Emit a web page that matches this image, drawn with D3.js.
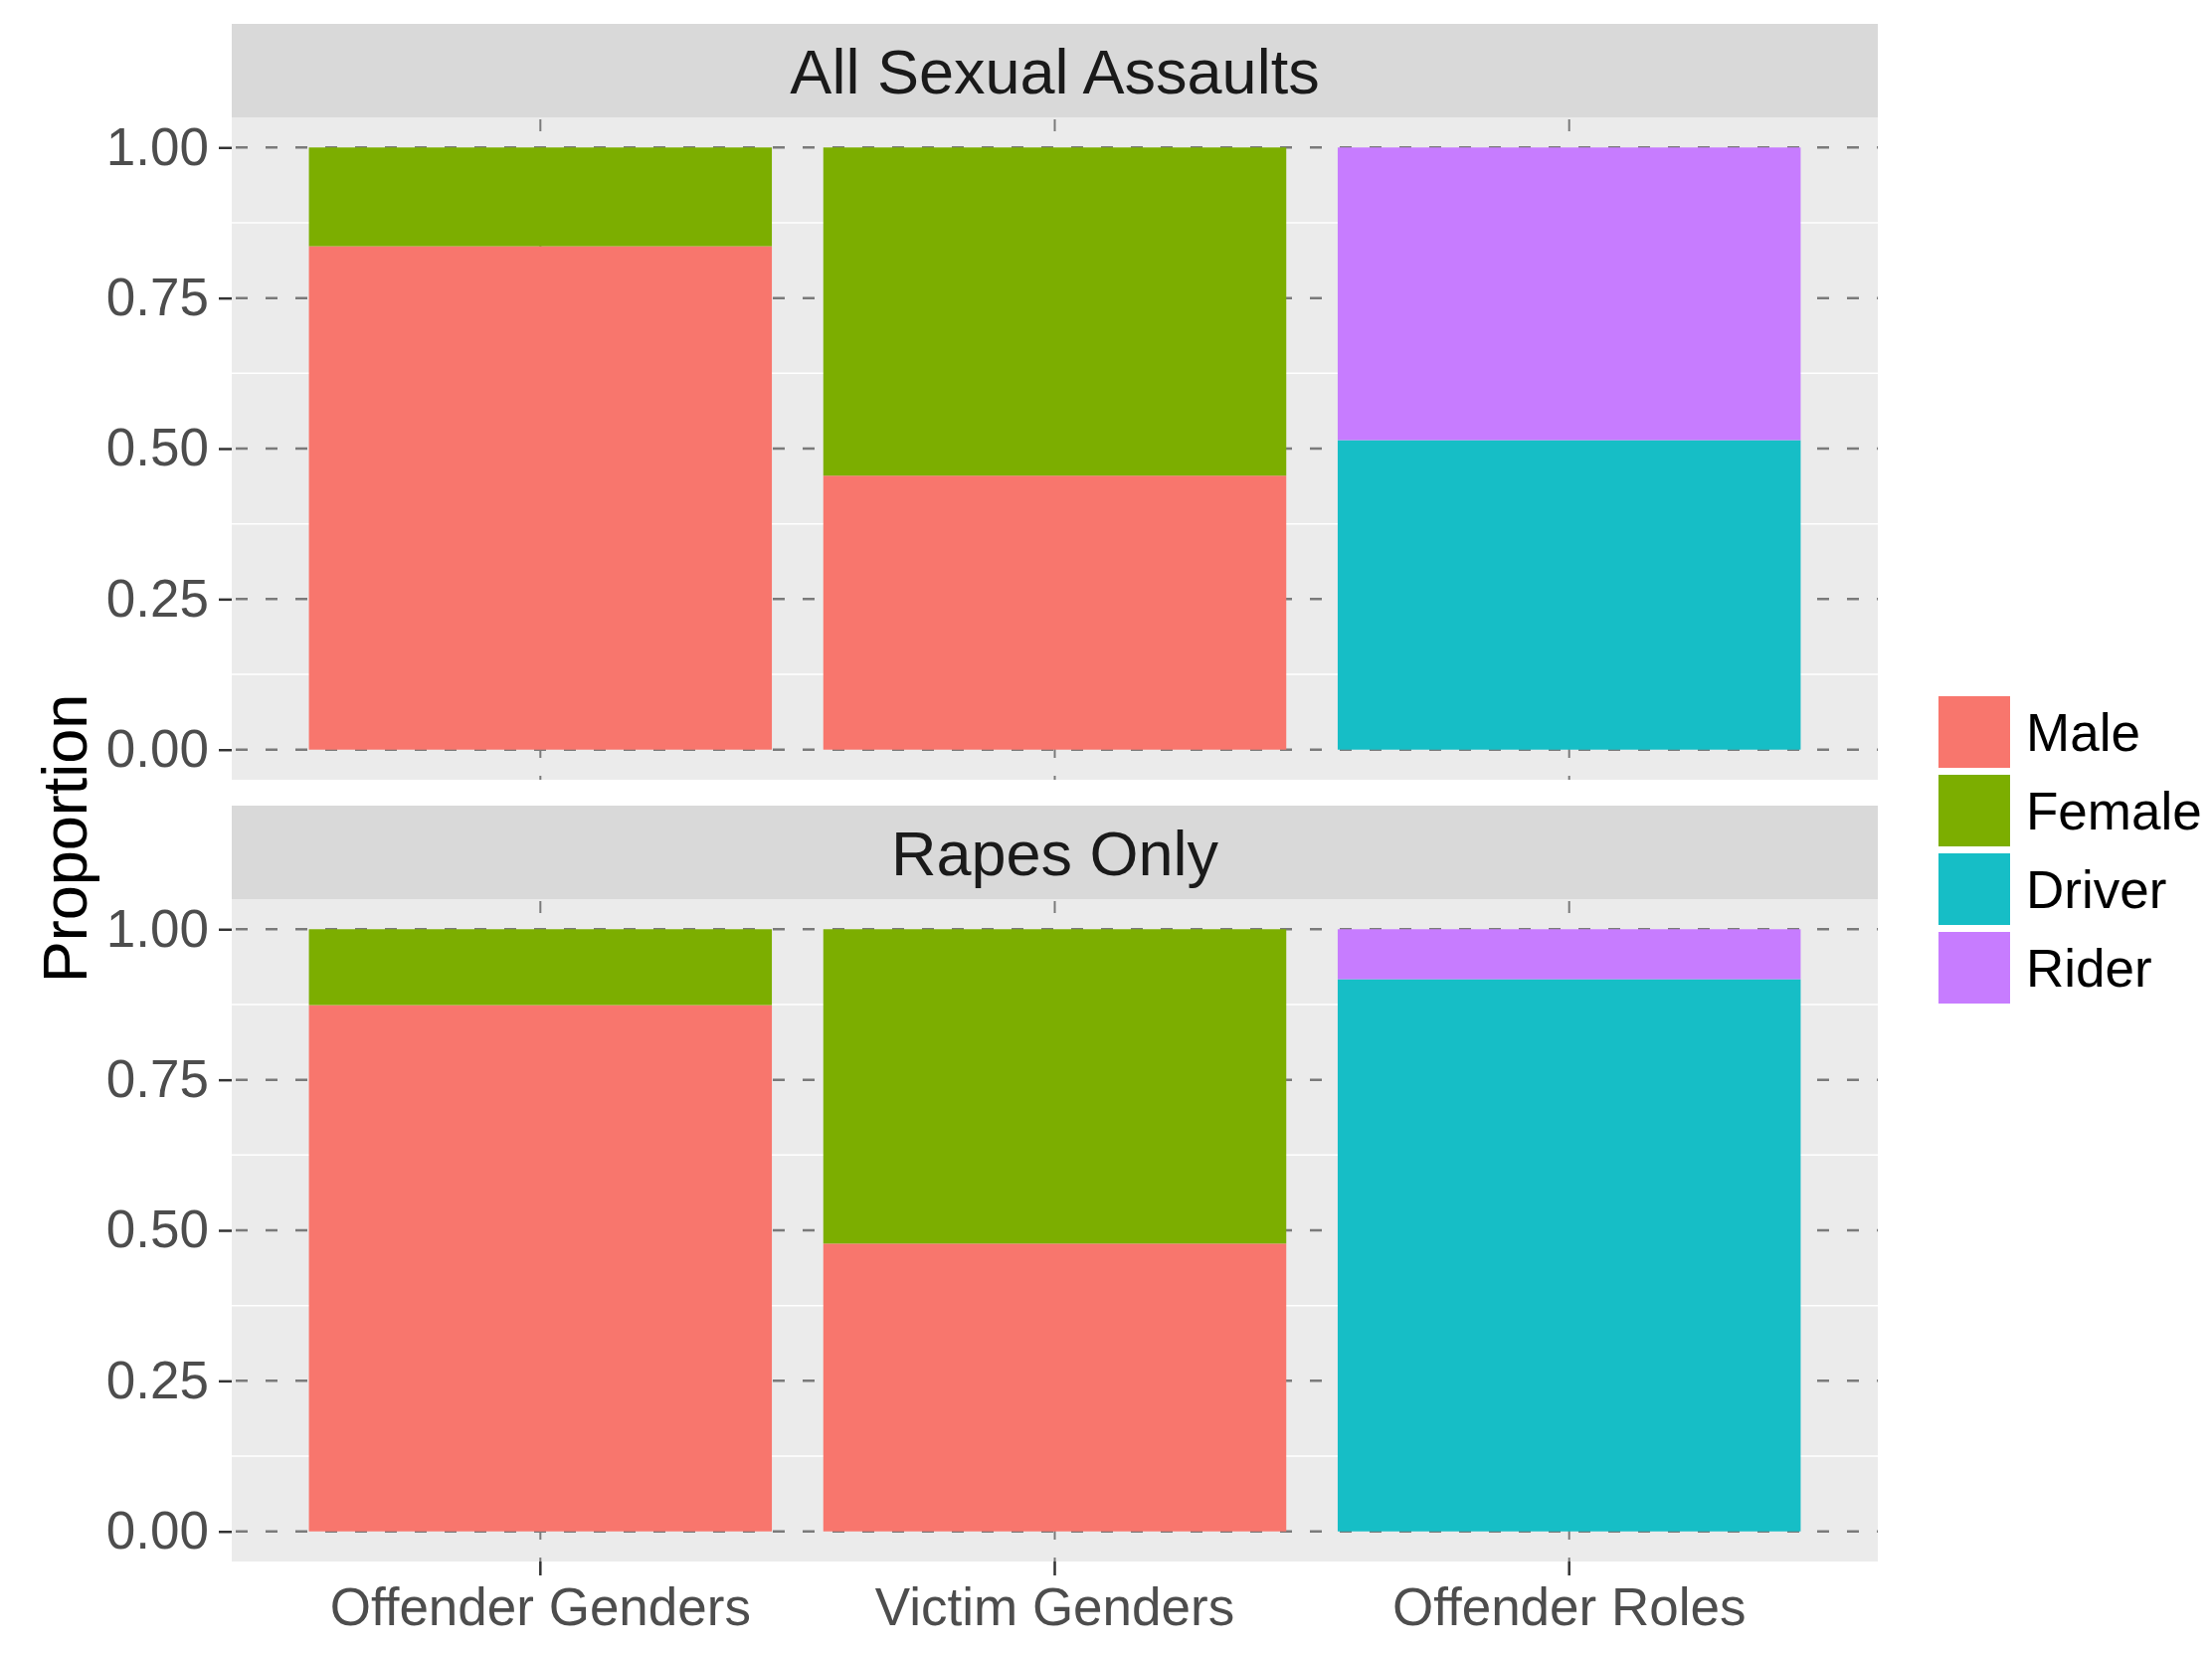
<!DOCTYPE html>
<html>
<head>
<meta charset="utf-8">
<script src="https://cdn.jsdelivr.net/npm/d3@7"></script>
<style>
  body { margin: 0; background: #fff; }
  text { font-family: "Liberation Sans", Arial, sans-serif; }
</style>
</head>
<body>
<svg id="chart" width="2224" height="1663"></svg>
<script>
// categories on the x axis, one facet per row
var categories = ["Offender Genders", "Victim Genders", "Offender Roles"];
var facetNames = ["All Sexual Assaults", "Rapes Only"];
var groups = ["Male", "Female", "Driver", "Rider"];
var groupColors = ["#F8766D", "#7CAE00", "#16BEC6", "#C77CFF"];

// proportions, stacked from the bottom up
var allAssaults = [
  { cat: "Offender Genders", group: "Male",   value: 0.836 },
  { cat: "Offender Genders", group: "Female", value: 0.164 },
  { cat: "Victim Genders",   group: "Male",   value: 0.455 },
  { cat: "Victim Genders",   group: "Female", value: 0.545 },
  { cat: "Offender Roles",   group: "Driver", value: 0.514 },
  { cat: "Offender Roles",   group: "Rider",  value: 0.486 },
];
var rapesOnly = [
  { cat: "Offender Genders", group: "Male",   value: 0.874 },
  { cat: "Offender Genders", group: "Female", value: 0.126 },
  { cat: "Victim Genders",   group: "Male",   value: 0.478 },
  { cat: "Victim Genders",   group: "Female", value: 0.522 },
  { cat: "Offender Roles",   group: "Driver", value: 0.917 },
  { cat: "Offender Roles",   group: "Rider",  value: 0.083 },
];

var yTicks = [0, 0.25, 0.5, 0.75, 1];
var yMinor = [0.125, 0.375, 0.625, 0.875];

var svg = d3.select("#chart");
svg.append("rect").attr("width", 2224).attr("height", 1663).attr("fill", "#fff");

var panelLeft = 233, panelRight = 1888;
var stripH = 94, panelH = 666;
var facetTops = [24, 810]; // top of each strip

var color = d3.scaleOrdinal().domain(groups).range(groupColors);

var x = d3.scaleBand()
  .domain(categories)
  .range([panelLeft, panelRight])
  .paddingInner(0.1)
  .paddingOuter(0.15);

function stackRows(rows) {
  var base = {};
  return rows.map(d => {
    var y0 = base[d.cat] || 0;
    base[d.cat] = y0 + d.value;
    return { cat: d.cat, group: d.group, y0: y0, y1: y0 + d.value };
  });
}

[allAssaults, rapesOnly].forEach((rows, i) => {
  var top = facetTops[i] + stripH;
  var bottom = top + panelH;
  var y = d3.scaleLinear().domain([-0.05, 1.05]).range([bottom, top]);
  var g = svg.append("g");

  // strip
  g.append("rect")
    .attr("x", panelLeft).attr("y", facetTops[i])
    .attr("width", panelRight - panelLeft).attr("height", stripH)
    .attr("fill", "#D9D9D9");
  g.append("text")
    .attr("x", (panelLeft + panelRight) / 2)
    .attr("y", facetTops[i] + stripH / 2)
    .attr("dy", "0.36em")
    .attr("text-anchor", "middle")
    .attr("font-size", 63)
    .attr("fill", "#1A1A1A")
    .text(facetNames[i]);

  // panel background + grid
  g.append("rect")
    .attr("x", panelLeft).attr("y", top)
    .attr("width", panelRight - panelLeft).attr("height", panelH)
    .attr("fill", "#EBEBEB");

  g.selectAll(".minor")
    .data(yMinor).enter()
    .append("line")
    .attr("x1", panelLeft).attr("x2", panelRight)
    .attr("y1", d => y(d)).attr("y2", d => y(d))
    .attr("stroke", "#fff").attr("stroke-width", 1.5);

  g.selectAll(".major")
    .data(yTicks).enter()
    .append("line")
    .attr("x1", panelLeft).attr("x2", panelRight)
    .attr("y1", d => y(d)).attr("y2", d => y(d))
    .attr("stroke", "#7A7A7A").attr("stroke-width", 2.5)
    .attr("stroke-dasharray", "12,18")
    .attr("stroke-dashoffset", -4);

  g.selectAll(".vmajor")
    .data(categories).enter()
    .append("line")
    .attr("x1", d => x(d) + x.bandwidth() / 2).attr("x2", d => x(d) + x.bandwidth() / 2)
    .attr("y1", top).attr("y2", bottom)
    .attr("stroke", "#7A7A7A").attr("stroke-width", 2)
    .attr("stroke-dasharray", "12,18")
    .attr("stroke-dashoffset", -2);

  // bars
  g.selectAll(".bar")
    .data(stackRows(rows)).enter()
    .append("rect")
    .attr("x", d => x(d.cat))
    .attr("width", x.bandwidth())
    .attr("y", d => y(d.y1))
    .attr("height", d => y(d.y0) - y(d.y1))
    .attr("fill", d => color(d.group));

  // y axis
  var yAxis = g.append("g")
    .attr("transform", `translate(${panelLeft},0)`)
    .call(d3.axisLeft(y).tickValues(yTicks).tickFormat(d3.format(".2f")).tickSize(13).tickPadding(10));
  yAxis.select(".domain").remove();
  yAxis.selectAll(".tick line").attr("stroke", "#333").attr("stroke-width", 2.5);
  yAxis.selectAll(".tick text")
    .attr("font-size", 53)
    .attr("fill", "#4D4D4D")
    .style("font-family", '"Liberation Sans", Arial, sans-serif');

  // x axis only under the last panel
  if (i === 1) {
    var xAxis = g.append("g")
      .attr("transform", `translate(0,${bottom})`)
      .call(d3.axisBottom(x).tickSize(14).tickPadding(12));
    xAxis.select(".domain").remove();
    xAxis.selectAll(".tick line").attr("stroke", "#333").attr("stroke-width", 2.5);
    xAxis.selectAll(".tick text")
      .attr("font-size", 53)
      .attr("fill", "#4D4D4D")
      .style("font-family", '"Liberation Sans", Arial, sans-serif');
  }
});

// y title
svg.append("text")
  .attr("transform", "translate(64,843) rotate(-90)")
  .attr("dy", "0.36em")
  .attr("text-anchor", "middle")
  .attr("font-size", 63)
  .attr("fill", "#000")
  .text("Proportion");

// legend
var legend = svg.append("g").attr("transform", "translate(1949,700)");
var keys = legend.selectAll("g")
  .data(groups).enter()
  .append("g")
  .attr("transform", (d, i) => `translate(0,${i * 79})`);
keys.append("rect")
  .attr("width", 72).attr("height", 72)
  .attr("fill", d => color(d));
keys.append("text")
  .attr("x", 88).attr("y", 36)
  .attr("dy", "0.36em")
  .attr("font-size", 53)
  .attr("fill", "#000")
  .text(d => d);
</script>
</body>
</html>
